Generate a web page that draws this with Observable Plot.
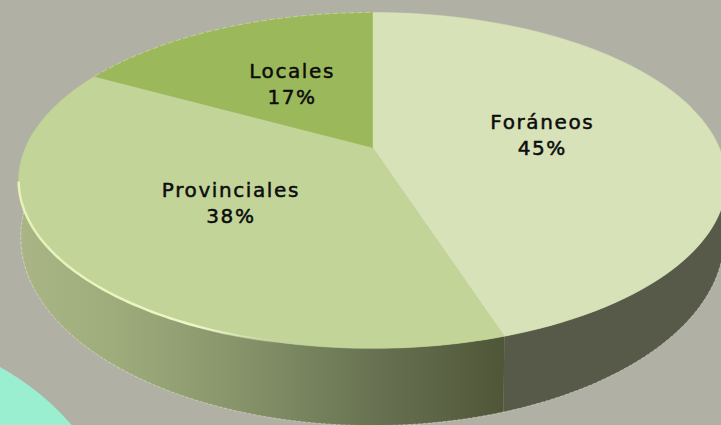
<!DOCTYPE html>
<html>
<head>
<meta charset="utf-8">
<script src="https://cdn.jsdelivr.net/npm/d3@7"></script>
<script src="https://cdn.jsdelivr.net/npm/@observablehq/plot@0.6"></script>
<style>
html,body{margin:0;padding:0;background:#b0b0a5;overflow:hidden}
svg{display:block}
svg text{letter-spacing:1.6px}
</style>
</head>
<body>
<div id="chart"></div>
<script>
const names = ["Foráneos", "Provinciales", "Locales"];
const values = [45, 38, 17];
const faceColors = ["#d7e2b8", "#c2d498", "#9bb95a"];
const backdrop = "#b0b0a5";
const accent = "#99efd0";

const W = 721, H = 425;
// perspective of the disc, in units of the top face's half-axes
const K = 0.196, TOP = {sx: 1, sy: 1, dy: 0}, BASE = {sx: 345 / 347, sy: 181 / 161.5, dy: -53 / 161.5};
const project = (rho, deg, d = TOP) => {
  const a = deg * Math.PI / 180;
  const u = rho * Math.sin(a), v = rho * Math.cos(a), w = 1 + K * v;
  return {u: d.sx * u / w, v: d.sy * v / w + d.dy};
};
const arc = (from, to, d = TOP) => d3.range(0, 91).map(i => project(1, from + (to - from) * i / 90, d));

let cum = 0;
const slices = names.map((name, i) => {
  const start = cum / 100 * 360;
  cum += values[i];
  const end = cum / 100 * 360;
  return {name, value: values[i], start, end, mid: (start + end) / 2};
});
const facePts = slices.flatMap(s => [{u: 0, v: 0}, ...arc(s.start, s.end), {u: 0, v: 0}].map(p => ({...p, name: s.name})));
const side = (from, to) => [...arc(from, to), ...arc(to, from, BASE)];
const labels = slices.map(s => ({...project(0.5, s.mid), text: `${s.name}\n${s.value}%`}));
const seam = slices[0].end;
const circle = [{u: -502 / 347, v: -453 / 161.5}];

const defs = () => {
  const ns = "http://www.w3.org/2000/svg";
  const el = (n, attrs, kids = []) => {
    const e = document.createElementNS(ns, n);
    for (const k in attrs) e.setAttribute(k, attrs[k]);
    kids.forEach(c => e.appendChild(c));
    return e;
  };
  const stop = (o, c, op = 1) => el("stop", {offset: o, "stop-color": c, "stop-opacity": op});
  return el("defs", {}, [
    el("linearGradient", {id: "sideGrad", gradientUnits: "userSpaceOnUse", x1: 18, x2: 505, y1: 0, y2: 0}, [
      stop(0, "#a9b585"), stop(0.2, "#9eac7c"), stop(0.45, "#87946a"), stop(0.75, "#667050"), stop(1, "#4f5638")
    ]),
    el("linearGradient", {id: "rimGrad", gradientUnits: "userSpaceOnUse", x1: 18, x2: 280, y1: 0, y2: 0}, [
      stop(0, "#e6f2b8"), stop(0.7, "#eef6c8"), stop(1, "#eef6c8", 0)
    ])
  ]);
};

const plot = Plot.plot({
  width: W, height: H, margin: 0,
  style: {background: backdrop, overflow: "hidden"},
  x: {domain: [-372 / 347, 349 / 347], axis: null},
  y: {domain: [-278 / 161.5, 147 / 161.5], axis: null},
  color: {domain: names, range: faceColors},
  marks: [
    defs,
    Plot.dot(circle, {x: "u", y: "v", r: 267, fill: accent, stroke: "none"}),
    Plot.line(side(seam, 285), {x: "u", y: "v", fill: "url(#sideGrad)", stroke: "none", curve: "linear"}),
    Plot.line(side(75, seam), {x: "u", y: "v", fill: "#575a48", stroke: "none", curve: "linear"}),
    Plot.line(arc(100, 278, BASE), {x: "u", y: "v", stroke: "#f4f4ea", strokeWidth: 0.8, strokeOpacity: 0.55, strokeDasharray: "3 2"}),
    Plot.line(facePts, {x: "u", y: "v", z: "name", fill: "name", stroke: "name", strokeWidth: 0.5, curve: "linear"}),
    Plot.line(arc(299, 360), {x: "u", y: "v", stroke: "#f4f4ea", strokeWidth: 0.8, strokeOpacity: 0.5, strokeDasharray: "5 3"}),
    Plot.line(arc(190, 258), {x: "u", y: "v", stroke: "url(#rimGrad)", strokeWidth: 2.5}),
    Plot.text(labels, {
      x: "u", y: "v", text: "text", fill: "#0c0c0c", lineHeight: 1.3, dy: -1, dx: 1,
      fontSize: 20, fontFamily: "DejaVu Sans", fontWeight: 400,
      stroke: "#0c0c0c", strokeWidth: 0.5
    })
  ]
});
document.getElementById("chart").appendChild(plot);
</script>
</body>
</html>
